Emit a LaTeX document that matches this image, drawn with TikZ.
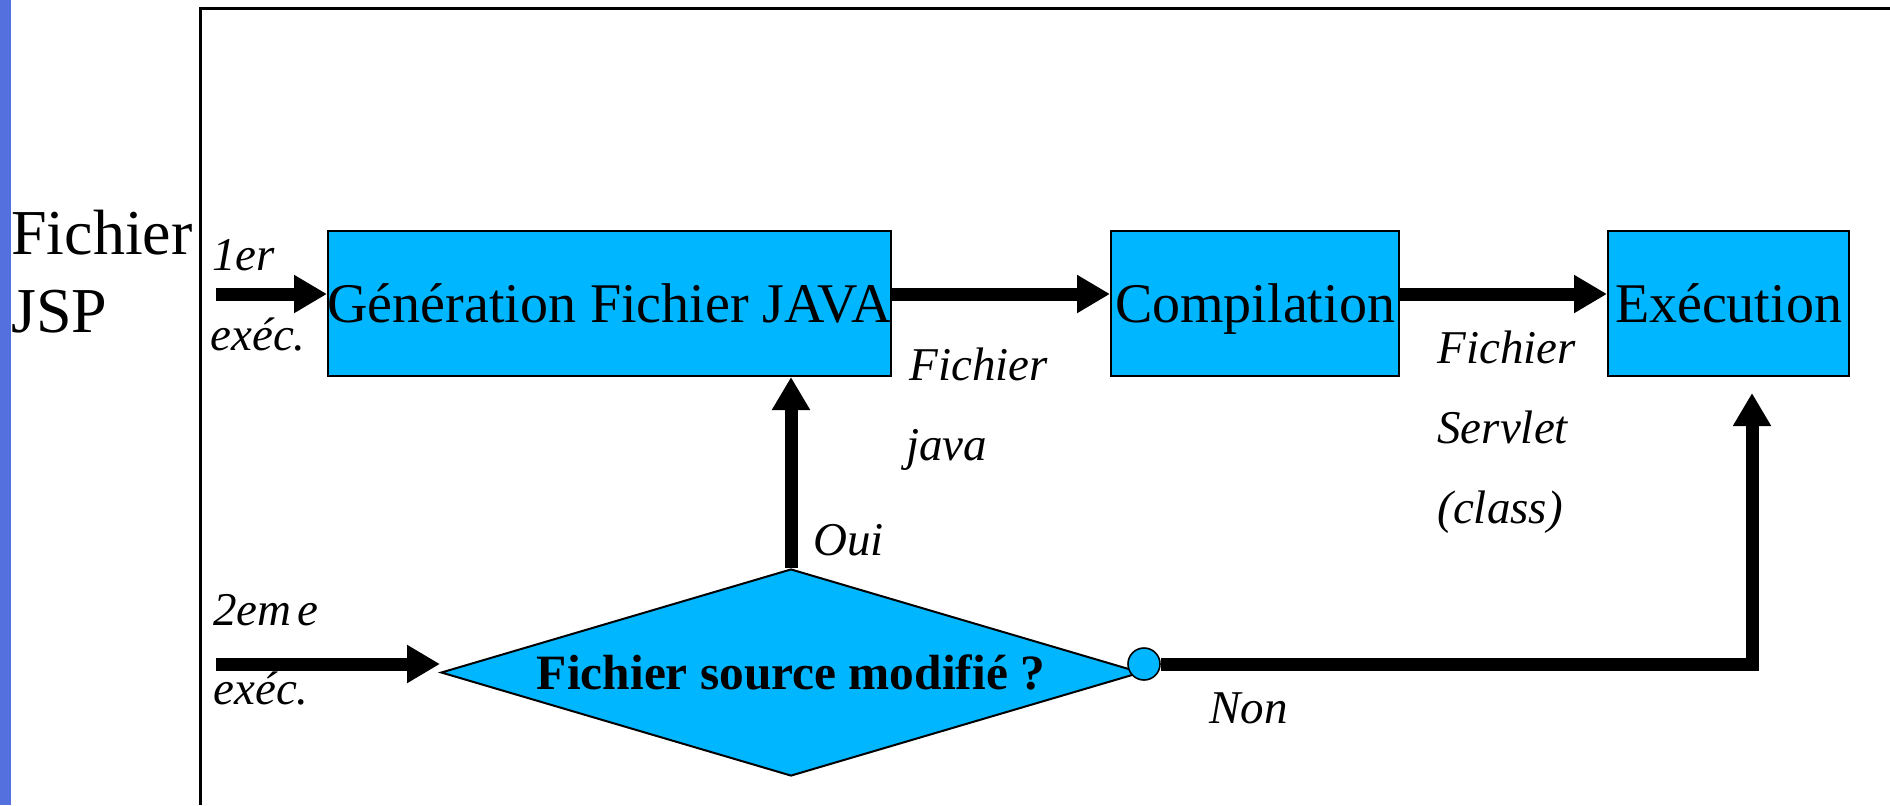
\documentclass[tikz,border=0pt]{standalone}
\usepackage{fontspec}
\setmainfont{Liberation Serif}
\newfontfamily\lblfont{Liberation Serif}
\usetikzlibrary{arrows.meta,shapes.geometric}
\definecolor{cy}{RGB}{0,182,255}
\definecolor{stripblue}{RGB}{84,112,222}
\tikzset{
  box/.style={draw=black,line width=1pt,fill=cy,rectangle,minimum width=#1,minimum height=72.5pt,
    inner sep=0pt,font=\fontsize{28}{33}\selectfont,text height=19pt,text depth=0pt},
  dia/.style={diamond,draw=black,line width=1pt,fill=cy,minimum width=350pt,minimum height=103.5pt,
    aspect=3.4,inner sep=0pt,font=\bfseries\fontsize{24.7}{29}\selectfont,text height=16.8pt,text depth=0pt},
  arr/.style={line width=6.5pt,-{Triangle[length=16.5pt,width=18pt]}},
  lbl/.style={anchor=base west,inner sep=0pt,font={\lblfont\itshape\fontsize{23.5}{28}\selectfont}},
  big/.style={anchor=base west,inner sep=0pt,font=\fontsize{32}{38}\selectfont},
}
\begin{document}
\begin{tikzpicture}[x=0.5pt,y=-0.5pt]
\useasboundingbox (0,0) rectangle (1890,805);
\fill[white] (0,0) rectangle (1890,805);
\fill[stripblue] (0,0) rectangle (11,805);
\draw[line width=1.5pt,line join=miter] (200,805) -- (200,8) -- (1890,8);

\node[box=281.5pt] (gen) at (609.5,303.5) {\makebox[0pt]{Génération Fichier JAVA}};
\node[box=144pt] (comp) at (1255,303.5) {Compilation};
\node[box=120.5pt] (exe) at (1728.5,303.5) {Exécution};
\node[dia] (dec) at (791,672.5) {Fichier source modifié ?};
\node[circle,draw=black,line width=0.8pt,fill=cy,minimum size=16pt,inner sep=0pt] (circ) at (1144,664) {};

\coordinate (in1) at (216,294);
\coordinate (in2) at (216,664);
\coordinate (nontip) at (1752,393);

\draw[arr] (in1) -- (in1 -| gen.west);
\draw[arr] (gen.east |- in1) -- (comp.west |- in1);
\draw[arr] (comp.east |- in1) -- (exe.west |- in1);
\draw[arr] (dec.north) -- (dec.north |- gen.south);
\draw[arr] (in2) -- (in2 -| dec.west);
\draw[arr,line join=miter] (circ.east) -| (nontip);

\node[big] (f1) at (11,254) {Fichier};
\node[big] (f2) at (11,332) {JSP};
\node[lbl] (l1a) at (212,270) {1er};
\node[lbl] (l1b) at (210,350) {exéc.};
\node[lbl] (l2a) at (213,625) {2em\kern0.12em e};
\node[lbl] (l2b) at (213,704) {exéc.};
\node[lbl] (fj1) at (909,380) {Fichier};
\node[lbl] (fj2) at (906,460) {java};
\node[lbl] (fs1) at (1437,363) {Fichier};
\node[lbl] (fs2) at (1437,443) {Servlet};
\node[lbl] (fs3) at (1437,523) {(class)};
\node[lbl] (oui) at (813,555) {Oui};
\node[lbl] (non) at (1209,723) {Non};
\end{tikzpicture}
\end{document}
